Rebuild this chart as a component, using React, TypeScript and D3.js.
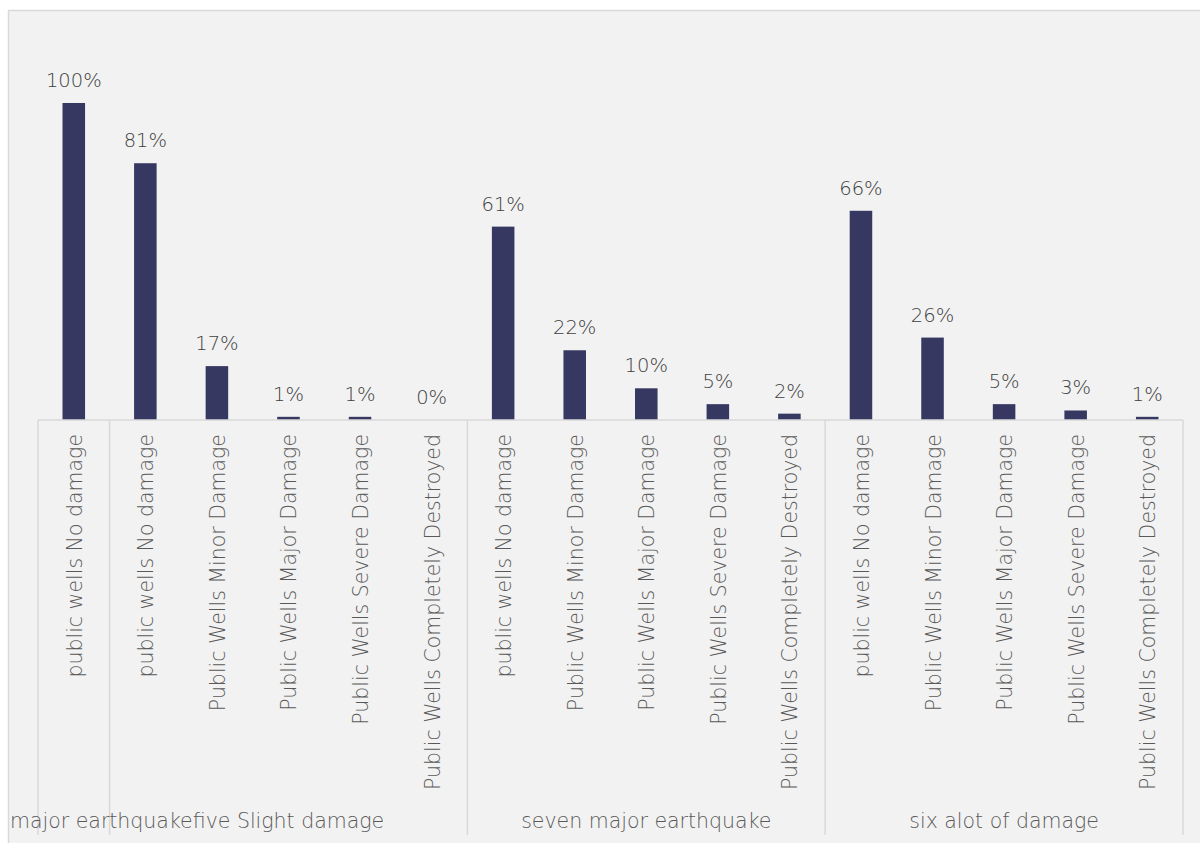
import React, { useEffect, useRef } from "react";
import * as d3 from "d3";

const categories = [
  "public wells No damage",
  "public wells No damage",
  "Public Wells Minor Damage",
  "Public Wells Major Damage",
  "Public Wells Severe Damage",
  "Public Wells Completely Destroyed",
  "public wells No damage",
  "Public Wells Minor Damage",
  "Public Wells Major Damage",
  "Public Wells Severe Damage",
  "Public Wells Completely Destroyed",
  "public wells No damage",
  "Public Wells Minor Damage",
  "Public Wells Major Damage",
  "Public Wells Severe Damage",
  "Public Wells Completely Destroyed",
];
const values = [1.0, 0.81, 0.17, 0.01, 0.01, 0.0, 0.61, 0.22, 0.1, 0.05, 0.02, 0.66, 0.26, 0.05, 0.03, 0.01];
const groupNames = ["major earthquake", "five Slight damage", "seven major earthquake", "six alot of damage"];
const groupSizes = [1, 5, 5, 5];

const W = 1200;
const H = 843;
const FONT = "'DejaVu Sans', sans-serif";

export default function App() {
  const ref = useRef<SVGSVGElement | null>(null);

  useEffect(() => {
    const svg = d3.select(ref.current);
    svg.selectAll("*").remove();

    const left = 38;
    const right = 1183;
    const baseY = 420;
    const topY = 103;
    const bottomY = 835;

    svg.append("rect").attr("x", 0).attr("y", 0).attr("width", W).attr("height", H).attr("fill", "#ffffff");
    svg
      .append("rect")
      .attr("x", 8.5)
      .attr("y", 10.5)
      .attr("width", W + 20)
      .attr("height", H + 20)
      .attr("fill", "#f2f2f2")
      .attr("stroke", "#d9d9d9")
      .attr("stroke-width", 1.5);

    const idx = categories.map((_, i) => i);
    const x = d3.scaleBand<number>().domain(idx).range([left, right]).paddingInner(0).paddingOuter(0);
    const y = d3.scaleLinear().domain([0, 1]).range([baseY, topY]);
    const bw = x.bandwidth() * 0.315;

    svg
      .append("g")
      .selectAll("rect")
      .data(values)
      .join("rect")
      .attr("x", (_, i) => x(i)! + x.bandwidth() / 2 - bw / 2)
      .attr("y", (d) => y(d))
      .attr("width", bw)
      .attr("height", (d) => baseY - y(d))
      .attr("fill", "#363862");

    svg
      .append("g")
      .selectAll("text")
      .data(values)
      .join("text")
      .attr("x", (_, i) => x(i)! + x.bandwidth() / 2)
      .attr("y", (d) => y(d) - 16)
      .attr("text-anchor", "middle")
      .attr("font-family", FONT)
      .attr("font-weight", 300)
      .attr("font-size", 19.5)
      .attr("fill", "#404040")
      .text((d) => d3.format(".0%")(d));

    svg
      .append("line")
      .attr("x1", left)
      .attr("x2", right)
      .attr("y1", baseY)
      .attr("y2", baseY)
      .attr("stroke", "#d9d9d9")
      .attr("stroke-width", 1.5);

    const bounds: number[] = [0];
    groupSizes.forEach((s) => bounds.push(bounds[bounds.length - 1] + s));
    svg
      .append("g")
      .selectAll("line")
      .data(bounds)
      .join("line")
      .attr("x1", (b) => (b < categories.length ? x(b)! : right))
      .attr("x2", (b) => (b < categories.length ? x(b)! : right))
      .attr("y1", baseY)
      .attr("y2", bottomY)
      .attr("stroke", "#d9d9d9")
      .attr("stroke-width", 1.5);

    svg
      .append("g")
      .selectAll("text")
      .data(categories)
      .join("text")
      .attr("transform", (_, i) => `translate(${x(i)! + x.bandwidth() / 2 + 8},${baseY + 14}) rotate(-90)`)
      .attr("text-anchor", "end")
      .attr("font-family", FONT)
      .attr("font-weight", 300)
      .attr("font-size", 20.5)
      .attr("fill", "#595959")
      .text((d) => d);

    const gl = svg.append("g");
    groupNames.forEach((name, gi) => {
      const start = bounds[gi];
      const end = bounds[gi + 1];
      const x0 = x(start)!;
      const x1 = end < categories.length ? x(end)! : right;
      const cx = (x0 + x1) / 2;
      const t = gl
        .append("text")
        .attr("y", 828)
        .attr("font-family", FONT)
        .attr("font-weight", 300)
        .attr("font-size", 20.5)
        .attr("fill", "#595959")
        .text(name);
      const w = (t.node() as SVGTextElement).getComputedTextLength();
      t.attr("x", Math.max(10, cx - w / 2));
    });
  }, []);

  return (
    <svg
      ref={ref}
      width={W}
      height={H}
      style={{ position: "absolute", left: 0, top: 0, display: "block" }}
    />
  );
}
